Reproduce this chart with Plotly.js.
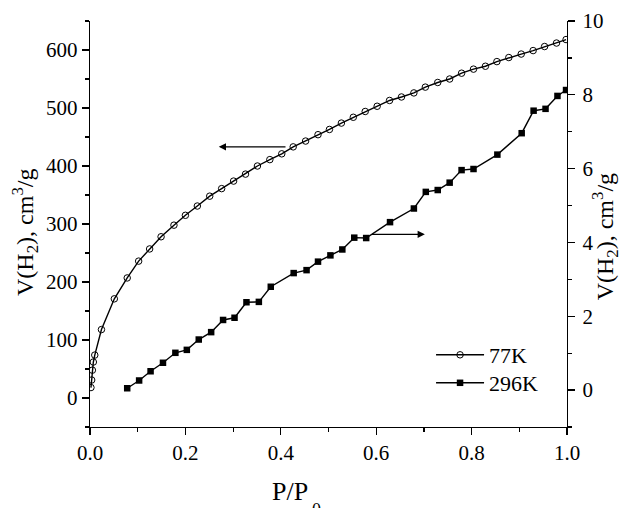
<!DOCTYPE html>
<html>
<head>
<meta charset="utf-8">
<script src="https://cdn.plot.ly/plotly-3.0.1.min.js"></script>
<style>html,body{margin:0;padding:0;background:#fff;}#chart{width:622px;height:508px;}</style>
</head>
<body>
<div id="chart"></div>
<script>
// 77K isotherm (left axis)
const p77 = [0.002,0.0035,0.005,0.007,0.01,0.024,0.051,0.078,0.102,0.125,0.149,0.176,0.200,0.225,0.251,0.276,0.301,0.326,0.351,0.377,0.402,0.426,0.452,0.478,0.502,0.527,0.552,0.577,0.602,0.628,0.653,0.679,0.703,0.729,0.754,0.779,0.804,0.829,0.853,0.878,0.904,0.929,0.953,0.978,0.998];
const v77 = [18,31,48,62,74,118,171,207,236,257,278,298,315,331,348,361,374,386,400,411,421,433,443,454,463,474,484,494,503,513,519,526,536,544,550,560,567,572,580,587,593,599,606,612,618];
// 296K isotherm (right axis)
const p296 = [0.078,0.103,0.127,0.153,0.179,0.203,0.228,0.254,0.279,0.303,0.328,0.354,0.379,0.427,0.454,0.478,0.504,0.529,0.554,0.579,0.629,0.679,0.704,0.729,0.754,0.779,0.804,0.854,0.905,0.930,0.955,0.980,0.998];
const v296 = [0.05,0.26,0.51,0.74,1.01,1.09,1.37,1.57,1.90,1.96,2.38,2.39,2.80,3.17,3.25,3.48,3.65,3.81,4.13,4.12,4.55,4.92,5.37,5.42,5.62,5.96,5.99,6.38,6.96,7.57,7.62,7.97,8.13];
const names = ['77K','296K'];
const xTitleMain = 'P/P';
const xTitleSub = '0';
const yTitle = 'V(H<sub>2</sub>), cm<sup>3</sup>/g';

const FONT = 'Liberation Serif, Times New Roman, serif';

const traces = [
  {x: p77, y: v77, name: names[0], type: 'scatter', mode: 'lines+markers', yaxis: 'y', legend: 'legend',
   line: {color: '#000', width: 1.4},
   marker: {symbol: 'circle-open', size: 6.5, color: '#000', line: {width: 1, color: '#000'}}},
  {x: p296, y: v296, name: names[1], type: 'scatter', mode: 'lines+markers', yaxis: 'y2', legend: 'legend2',
   line: {color: '#000', width: 1.4},
   marker: {symbol: 'square', size: 6.5, color: '#000'}}
];

const axisCommon = {
  showline: true, linecolor: '#000', linewidth: 1.2,
  ticks: 'outside', ticklen: 7, tickwidth: 1.2, tickcolor: '#000',
  showgrid: false, zeroline: false,
  tickfont: {family: FONT, size: 21, color: '#000'}
};

const legendCommon = {xanchor: 'left', yanchor: 'middle',
  font: {family: FONT, size: 22, color: '#000'}, bgcolor: 'rgba(0,0,0,0)', itemwidth: 48};

const titleFont = {family: FONT, size: 24, color: '#000'};

const layout = {
  width: 622, height: 508,
  margin: {l: 90, r: 55, t: 21, b: 81},
  paper_bgcolor: '#fff', plot_bgcolor: '#fff',
  font: {family: FONT, color: '#000'},
  showlegend: true,
  legend: Object.assign({}, legendCommon, {x: 0.715, y: (427 - 355) / 406}),
  legend2: Object.assign({}, legendCommon, {x: 0.715, y: (427 - 383) / 406}),
  xaxis: Object.assign({}, axisCommon, {
    range: [0, 1], dtick: 0.2, tick0: 0, tickformat: '.1f',
    minor: {dtick: 0.1, ticklen: 4, tickwidth: 1.2, tickcolor: '#000', ticks: 'outside', showgrid: false}
  }),
  yaxis: Object.assign({}, axisCommon, {
    range: [-50, 650], dtick: 100, tick0: 0,
    minor: {dtick: 50, ticklen: 4, tickwidth: 1.2, tickcolor: '#000', ticks: 'outside', showgrid: false}
  }),
  yaxis2: Object.assign({}, axisCommon, {
    overlaying: 'y', side: 'right', anchor: 'x',
    range: [-1, 10], dtick: 2, tick0: 0, ticklabelstandoff: 3,
    minor: {dtick: 1, ticklen: 4, tickwidth: 1.2, tickcolor: '#000', ticks: 'outside', showgrid: false}
  }),
  annotations: [
    {xref: 'x', yref: 'y', x: 0.27, y: 433, axref: 'x', ayref: 'y', ax: 0.413, ay: 433,
     showarrow: true, arrowhead: 2, arrowsize: 1.2, arrowwidth: 1.2, arrowcolor: '#000', text: ''},
    {xref: 'x', yref: 'y2', x: 0.702, y: 4.22, axref: 'x', ayref: 'y2', ax: 0.588, ay: 4.22,
     showarrow: true, arrowhead: 2, arrowsize: 1.2, arrowwidth: 1.2, arrowcolor: '#000', text: ''},
    {xref: 'paper', yref: 'paper', x: 0.378, y: -0.160, xanchor: 'left', yanchor: 'middle',
     text: xTitleMain, showarrow: false, font: {family: FONT, size: 26, color: '#000'}},
    {xref: 'paper', yref: 'paper', x: 0.4615, y: -0.205, xanchor: 'left', yanchor: 'middle',
     text: xTitleSub, showarrow: false, font: {family: FONT, size: 18, color: '#000'}},
    {xref: 'paper', yref: 'paper', x: (25 - 90) / 476.7, y: (427 - 232) / 406, xanchor: 'center', yanchor: 'middle',
     text: yTitle, textangle: -90, showarrow: false, font: titleFont},
    {xref: 'paper', yref: 'paper', x: (605 - 90) / 476.7, y: (427 - 237) / 406, xanchor: 'center', yanchor: 'middle',
     text: yTitle, textangle: -90, showarrow: false, font: titleFont}
  ]
};

Plotly.newPlot('chart', traces, layout, {displayModeBar: false, staticPlot: true});
</script>
</body>
</html>
